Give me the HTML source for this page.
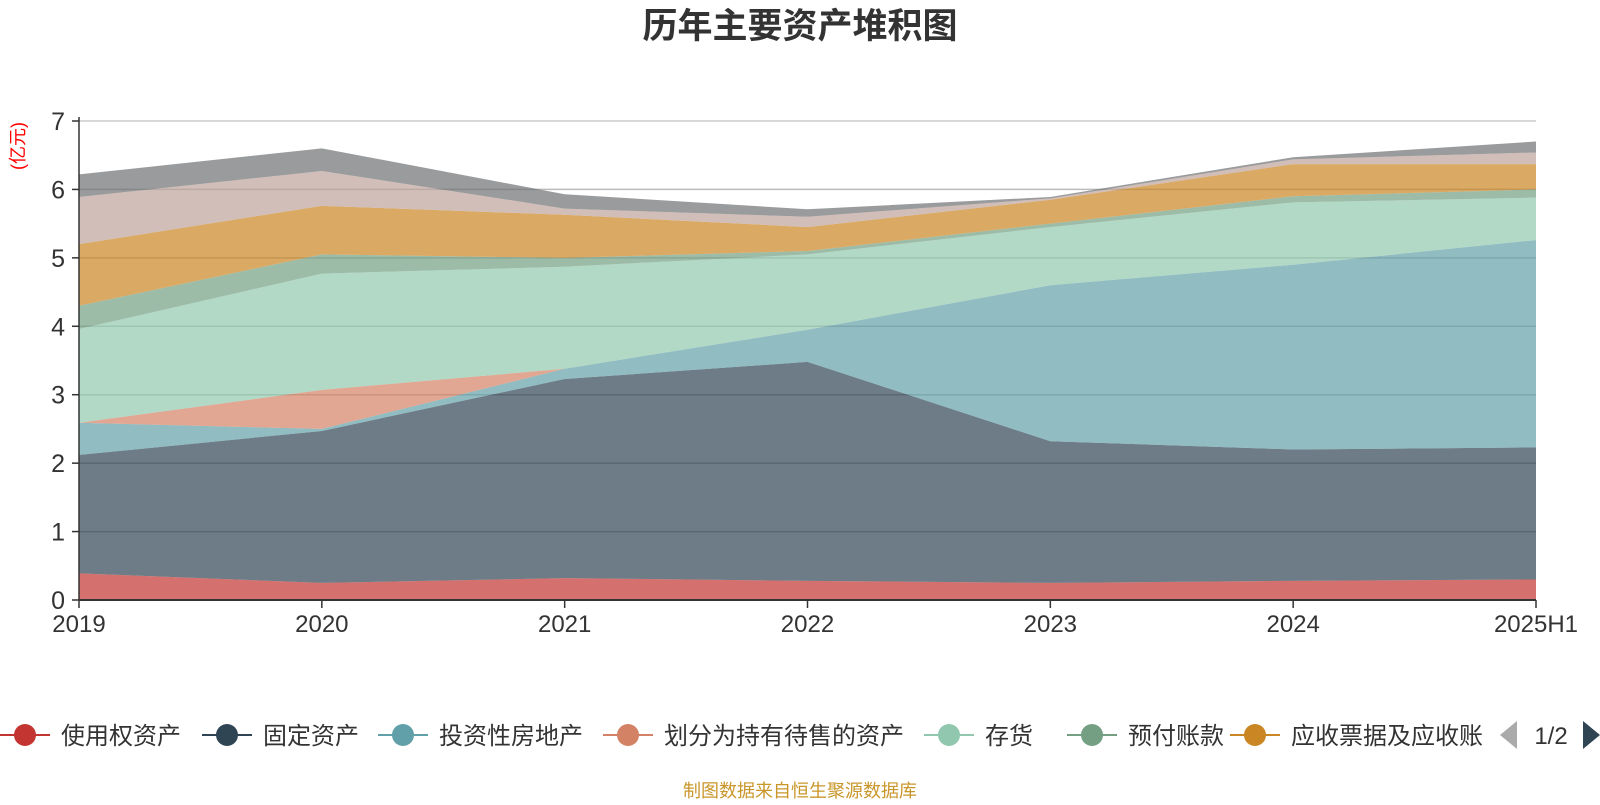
<!DOCTYPE html>
<html><head><meta charset="utf-8"><style>
body{margin:0;background:#fff;}
svg text{font-family:"Liberation Sans","Noto Sans CJK SC",sans-serif;}
</style></head><body>
<svg id="chart" width="1600" height="800" viewBox="0 0 1600 800" xmlns="http://www.w3.org/2000/svg">
<text x="800" y="38" text-anchor="middle" font-size="35" font-weight="bold" fill="#333">历年主要资产堆积图</text>
<text transform="translate(24,146) rotate(-90)" text-anchor="middle" font-size="18" fill="#ff0000">(亿元)</text>
<g id="grid"></g><g id="areas"></g><g id="axes"></g><g id="legend"></g>
<text x="800" y="797" text-anchor="middle" font-size="18" fill="#c9962a">制图数据来自恒生聚源数据库</text>
</svg>
<script>
const categories=["2019","2020","2021","2022","2023","2024","2025H1"];
const seriesNames=["使用权资产","固定资产","投资性房地产","划分为持有待售的资产","存货","预付账款","应收票据及应收账","其他1","其他2"];
const sRightOfUse=[0.39,0.25,0.32,0.28,0.25,0.28,0.30];
const sFixed=[1.73,2.22,2.91,3.20,2.07,1.92,1.93];
const sInvestProp=[0.47,0.03,0.15,0.47,2.28,2.70,3.03];
const sHeldForSale=[0,0.57,0,0,0,0,0];
const sInventory=[1.37,1.70,1.49,1.10,0.85,0.91,0.62];
const sPrepaid=[0.34,0.28,0.13,0.05,0.05,0.09,0.12];
const sReceivable=[0.90,0.71,0.63,0.35,0.35,0.47,0.37];
const sOther1=[0.69,0.51,0.09,0.15,0.02,0.07,0.17];
const sOther2=[0.33,0.33,0.21,0.11,0.02,0.03,0.16];
const yTicks=[0,1,2,3,4,5,6,7];
const series=[sRightOfUse,sFixed,sInvestProp,sHeldForSale,sInventory,sPrepaid,sReceivable,sOther1,sOther2];
const colors=["#c23531","#2f4554","#61a0a8","#d48265","#91c7ae","#749f83","#ca8622","#bda29a","#6e7074"];
const X0=79,X1=1536,Y0=600,Y1=121;
const xs=i=>X0+(X1-X0)*i/(categories.length-1);
const ys=v=>Y0-(Y0-Y1)*v/7;
const NS="http://www.w3.org/2000/svg";
function mk(tag,attrs,parent){const e=document.createElementNS(NS,tag);for(const k in attrs)e.setAttribute(k,attrs[k]);parent.appendChild(e);return e;}
const grid=document.getElementById('grid'),areas=document.getElementById('areas'),axes=document.getElementById('axes'),legend=document.getElementById('legend');
yTicks.forEach(t=>{
 const l=mk('line',{x1:X0,x2:X1,y1:ys(t),y2:ys(t),stroke:t==7?'#ccc':'#bbb','stroke-width':1.5},grid);
 
 
 const tk=mk('line',{x1:X0-7,x2:X0,y1:ys(t),y2:ys(t),stroke:'#333','stroke-width':1.5},axes);
 
 
 const tx=mk('text',{x:X0-14,y:ys(t)+9,'text-anchor':'end','font-size':25,fill:'#333'},axes);
 tx.textContent=t;
 
 
});
let base=categories.map(()=>0);
series.forEach((s,si)=>{
 const top=base.map((b,i)=>b+s[i]);
 let d='M'+top.map((v,i)=>xs(i)+','+ys(v)).join('L');
 for(let i=base.length-1;i>=0;i--)d+='L'+xs(i)+','+ys(base[i]);
 const p=mk('path',{d:d+'Z',fill:colors[si],'fill-opacity':0.7,stroke:'none'},areas);
 
 
 base=top;
});
const ya=mk('line',{x1:X0,x2:X0,y1:Y1-4,y2:Y0,stroke:'#333','stroke-width':1.5},axes);


const xa=mk('line',{x1:X0,x2:X1,y1:Y0,y2:Y0,stroke:'#333','stroke-width':2},axes);


categories.forEach((c,i)=>{
 const tk=mk('line',{x1:xs(i),x2:xs(i),y1:Y0,y2:Y0+8,stroke:'#333','stroke-width':1.5},axes);
 
 
 const tx=mk('text',{x:xs(i),y:Y0+32,'text-anchor':'middle','font-size':24,fill:'#333'},axes);
 tx.textContent=c;
 
 
});
const lgX=[25,227,403,628,949,1092,1255];
for(let i=0;i<7;i++){
 const g=mk('g',{},legend);
 
 
 mk('line',{x1:lgX[i]-25,x2:lgX[i]+25,y1:735,y2:735,stroke:colors[i],'stroke-width':2},g);
 mk('circle',{cx:lgX[i],cy:735,r:11,fill:colors[i]},g);
 const t=mk('text',{x:lgX[i]+36,y:744,'font-size':24,fill:'#333'},g);
 t.textContent=seriesNames[i];
}
const pl=mk('path',{d:'M1500,735 L1517,721 L1517,749 Z',fill:'#aaa'},legend);


const pt=mk('text',{x:1551,y:744,'text-anchor':'middle','font-size':24,fill:'#333'},legend);
pt.textContent='1/2';


const pn=mk('path',{d:'M1600,735 L1583,721 L1583,749 Z',fill:'#2f4554'},legend);


</script>
</body></html>
